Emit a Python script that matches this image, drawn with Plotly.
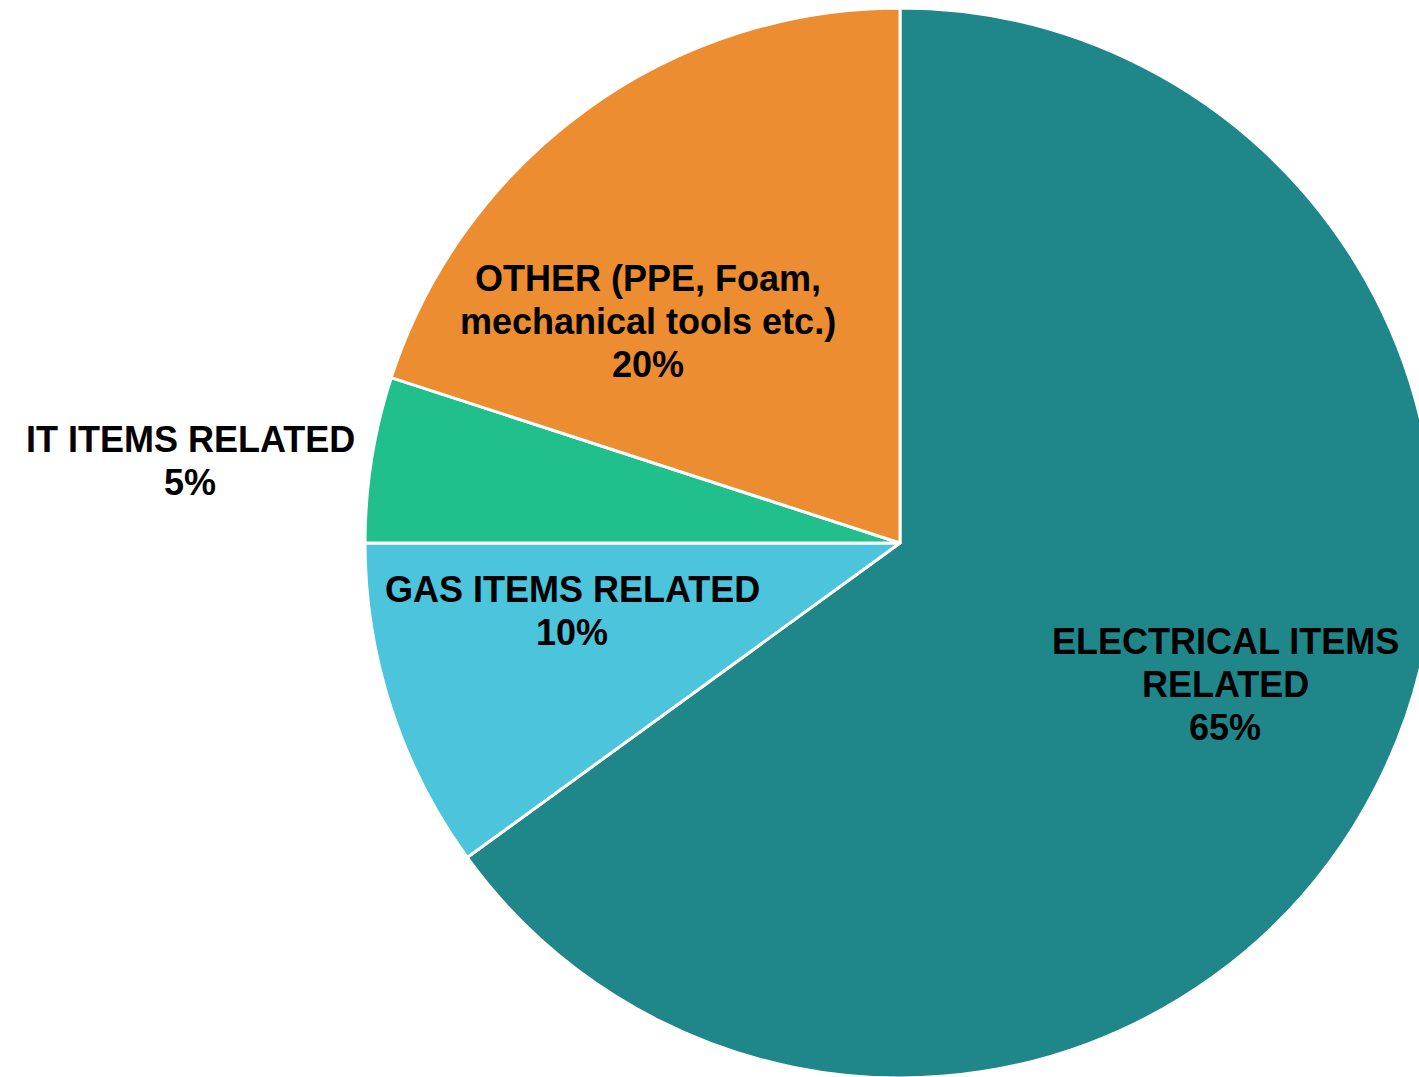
import plotly.graph_objects as go

# ---- data ----
categories = ["ELECTRICAL ITEMS RELATED", "GAS ITEMS RELATED",
              "IT ITEMS RELATED", "OTHER (PPE, Foam, mechanical tools etc.)"]
values = [65, 10, 5, 20]
# how each category label wraps in the chart
label_wrapped = [["ELECTRICAL ITEMS", "RELATED"], ["GAS ITEMS RELATED"],
                 ["IT ITEMS RELATED"], ["OTHER (PPE, Foam,", "mechanical tools etc.)"]]

# ---- style ----
colors = ["#1F868A", "#4BC4DC", "#20BF8B", "#ED8D31"]
W, H = 1450, 1090
CX, CY, R = 900, 543, 535           # pie centre / radius in pixels (from top-left)
label_px = [(1225, 684), (572, 611), (190, 461), (648, 321)]  # label block centres in pixels
LINE_H = 43
FONT = dict(family="Liberation Sans, Arial, sans-serif", size=36, color="#000000", weight="bold")

fig = go.Figure(go.Pie(
    labels=categories,
    values=values,
    sort=False,
    direction="clockwise",
    rotation=0,
    textinfo="none",
    hoverinfo="label+percent",
    marker=dict(colors=colors, line=dict(color="#FFFFFF", width=3)),
    domain=dict(x=[(CX - R) / W, (CX + R) / W],
                y=[(H - CY - R) / H, (H - CY + R) / H]),
    showlegend=False,
))

total = sum(values)
for lines, v, (px, py) in zip(label_wrapped, values, label_px):
    pct = round(100 * v / total)
    all_lines = lines + [f"{pct}%"]
    n = len(all_lines)
    for i, txt in enumerate(all_lines):
        ly = py + (i - (n - 1) / 2) * LINE_H
        fig.add_annotation(
            x=px / W, y=1 - ly / H, xref="paper", yref="paper",
            xanchor="center", yanchor="middle",
            text=f"<b>{txt}</b>",
            showarrow=False, align="center", font=FONT,
        )

fig.update_layout(
    width=W, height=H,
    margin=dict(l=0, r=0, t=0, b=0),
    paper_bgcolor="#FFFFFF", plot_bgcolor="#FFFFFF",
)

fig.write_html(
    "out.html",
    config={"displayModeBar": False},
    post_script="document.body.style.margin='0';document.body.style.overflow='hidden';"
                "document.documentElement.style.overflow='hidden';",
)
